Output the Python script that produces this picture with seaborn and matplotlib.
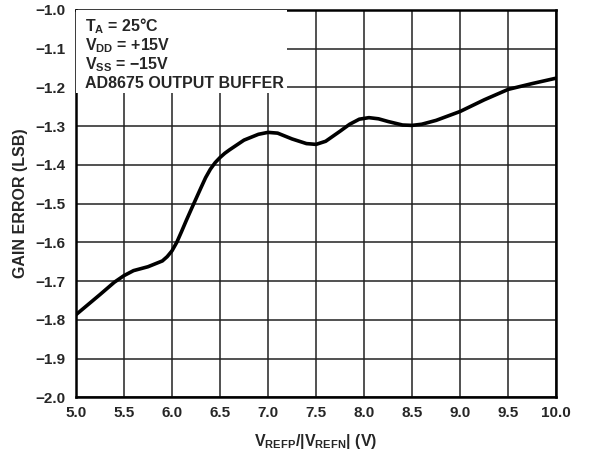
import pandas as pd
import seaborn as sns
import matplotlib.pyplot as plt
from matplotlib.patches import Rectangle

# values
vref = [5.0, 5.25, 5.4, 5.5, 5.6, 5.75, 5.9, 5.95, 6.0, 6.05, 6.1, 6.15, 6.2, 6.3,
        6.35, 6.4, 6.45, 6.5, 6.55, 6.6, 6.75, 6.9, 7.0, 7.1, 7.25, 7.4, 7.5, 7.6,
        7.75, 7.85, 7.95, 8.05, 8.15, 8.25, 8.4, 8.5, 8.6, 8.75, 9.0, 9.25, 9.5,
        9.75, 10.0]
gain_error = [-1.787, -1.735, -1.703, -1.686, -1.673, -1.663, -1.648, -1.637, -1.622,
              -1.6, -1.572, -1.543, -1.515, -1.46, -1.433, -1.411, -1.394, -1.381,
              -1.37, -1.361, -1.336, -1.321, -1.316, -1.318, -1.333, -1.345, -1.347,
              -1.339, -1.313, -1.295, -1.282, -1.278, -1.281, -1.288, -1.297, -1.298,
              -1.295, -1.285, -1.262, -1.232, -1.205, -1.19, -1.176]
x_ticks = [5.0, 5.5, 6.0, 6.5, 7.0, 7.5, 8.0, 8.5, 9.0, 9.5, 10.0]
y_ticks = [-2.0, -1.9, -1.8, -1.7, -1.6, -1.5, -1.4, -1.3, -1.2, -1.1, -1.0]
notes = ["T$_\\mathregular{A}$ = 25°C", "V$_\\mathregular{DD}$ = +15V",
         "V$_\\mathregular{SS}$ = \u221215V", "AD8675 OUTPUT BUFFER"]

df = pd.DataFrame({"vref": vref, "gain": gain_error})

sns.set_theme(style="white")
plt.rcParams["font.family"] = ["Liberation Sans", "DejaVu Sans"]
plt.rcParams["axes.unicode_minus"] = True

fig = plt.figure(figsize=(5.93, 4.54), dpi=100)
ax = fig.add_axes([0.128, 0.125, 0.81, 0.853])

sns.lineplot(data=df, x="vref", y="gain", color="black", linewidth=2.6, ax=ax, zorder=4)
ax.lines[0].set_solid_joinstyle("round")

ax.set_xlim(5.0, 10.0)
ax.set_ylim(-2.0, -1.0)
ax.set_xticks(x_ticks)
ax.set_yticks(y_ticks)
ax.set_xticklabels([f"{t:.1f}" for t in x_ticks], fontsize=11, fontweight="bold")
ax.set_yticklabels([f"{t:.1f}".replace("-", "\u2212") for t in y_ticks],
                   fontsize=11, fontweight="bold")
ax.tick_params(axis="x", length=0, pad=6)
ax.tick_params(axis="y", length=0, pad=7.5)
ax.grid(True, color="#222222", linewidth=1.1)
for s in ax.spines.values():
    s.set_color("black")
    s.set_linewidth(1.8)

ax.set_xlabel("V$_\\mathregular{REFP}$/|V$_\\mathregular{REFN}$| (V)", fontsize=11.5,
              fontweight="bold", labelpad=9)
ax.set_ylabel("GAIN ERROR (LSB)", fontsize=11.5, fontweight="bold", labelpad=5)

# white box behind the condition notes
ax.add_patch(Rectangle((0.0, 0.786), 0.44, 0.214, transform=ax.transAxes,
                       facecolor="white", edgecolor="none", zorder=3))
note_y = [0.945, 0.896, 0.846, 0.798]
for line, yy in zip(notes, note_y):
    ax.text(0.018, yy, line, transform=ax.transAxes, fontsize=11.5,
            fontweight="bold", va="baseline", ha="left", zorder=5)

plt.savefig("out.png", dpi=100)
